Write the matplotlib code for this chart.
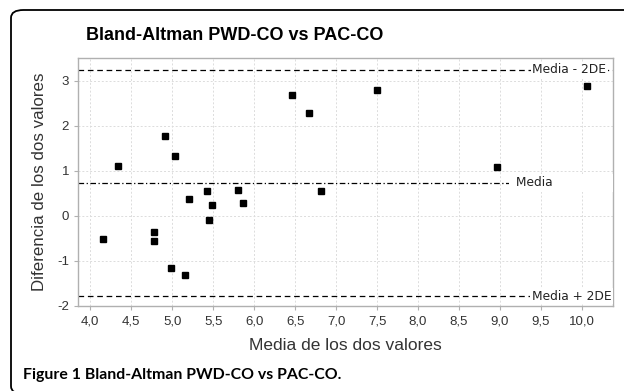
import matplotlib
matplotlib.use("Agg")
import matplotlib.pyplot as plt
from matplotlib.patches import FancyBboxPatch
from matplotlib.ticker import FixedLocator, FuncFormatter

# ---- data ----
media_vals = [4.15, 4.34, 4.78, 4.78, 4.91, 5.03, 4.98, 5.15, 5.20, 5.42,
              5.45, 5.48, 5.80, 5.86, 6.46, 6.67, 6.81, 7.50, 8.97, 10.06]
diff_vals = [-0.52, 1.10, -0.36, -0.55, 1.78, 1.32, -1.16, -1.31, 0.37, 0.56,
             -0.09, 0.25, 0.58, 0.28, 2.67, 2.27, 0.56, 2.80, 1.08, 2.87]
mean_diff = 0.73
upper_lim = 3.24
lower_lim = -1.78
x_ticks = [4.0, 4.5, 5.0, 5.5, 6.0, 6.5, 7.0, 7.5, 8.0, 8.5, 9.0, 9.5, 10.0]
y_ticks = [-2, -1, 0, 1, 2, 3]
title = "Bland-Altman PWD-CO vs PAC-CO"
xlabel = "Media de los dos valores"
ylabel = "Diferencia de los dos valores"
caption_bold = "Figure 1"
caption_text = "Bland-Altman PWD-CO vs PAC-CO."

W, H = 624, 391
fig = plt.figure(figsize=(W / 100, H / 100), dpi=100)
fig.patch.set_facecolor("white")

# rounded frame (right and bottom edges run off the picture)
frame = FancyBboxPatch((11 / W, -3 / H), 700 / W, (H - 7) / H,
                       boxstyle="round,pad=0,rounding_size=0.02",
                       transform=fig.transFigure, fill=False,
                       edgecolor="black", linewidth=1.3, zorder=0)
fig.patches.append(frame)

ax = fig.add_axes([78 / W, 1 - 306 / H, (613 - 78) / W, (306 - 58) / H])
ax.set_xlim(3.85, 10.38)
ax.set_ylim(-2, 3.5)

ax.xaxis.set_major_locator(FixedLocator(x_ticks))
ax.yaxis.set_major_locator(FixedLocator(y_ticks))
ax.xaxis.set_major_formatter(FuncFormatter(lambda v, p: f"{v:.1f}".replace(".", ",")))
ax.yaxis.set_major_formatter(FuncFormatter(lambda v, p: f"{int(v)}"))

ax.grid(True, color="#dcdcdc", linestyle=(0, (2, 2)), linewidth=0.7)
ax.set_axisbelow(True)
for s in ax.spines.values():
    s.set_color("#b0b0b0")
    s.set_linewidth(1.0)
ax.tick_params(axis="both", colors="#b0b0b0", length=3, width=0.8,
               labelcolor="#333333", labelsize=9.5)
for lab in ax.get_xticklabels() + ax.get_yticklabels():
    lab.set_family("Liberation Sans")

ax.plot(media_vals, diff_vals, linestyle="none", marker="s", markersize=3.8,
        color="black", zorder=3)

ax.axhline(upper_lim, color="black", linestyle=(0, (4.5, 3)), linewidth=0.9, zorder=2)
ax.axhline(lower_lim, color="black", linestyle=(0, (4.5, 3)), linewidth=0.9, zorder=2)
ax.axhline(mean_diff, color="black", linestyle=(0, (4.5, 2, 1, 2)), linewidth=0.9, zorder=2)

tkw = dict(family="DejaVu Sans", fontsize=8.8, color="#222222", va="center", zorder=4)
ax.text(10.30, upper_lim, "Media - 2DE", ha="right",
        bbox=dict(facecolor="white", edgecolor="none", pad=1), **tkw)
ax.text(9.15, mean_diff, " Media" + " " * 18, ha="left", clip_on=True,
        bbox=dict(facecolor="white", edgecolor="none", pad=2), **tkw)
ax.text(10.36, lower_lim, "Media + 2DE", ha="right",
        bbox=dict(facecolor="white", edgecolor="none", pad=1), **tkw)

ax.set_xlabel(xlabel, family="Liberation Sans", fontsize=12.5, color="#333333", labelpad=8)
ax.set_ylabel(ylabel, family="Liberation Sans", fontsize=12.2, color="#333333", labelpad=7)

fig.text(235 / W, 1 - 35 / H, title, family="Liberation Sans", fontweight="bold",
         fontsize=13, ha="center", va="center", color="black")

fig.text(23 / W, 1 - 375 / H, caption_bold + " " + caption_text, family="Lato",
         fontweight="bold", fontsize=11.4, ha="left", va="center", color="black")

fig.savefig("out.png", dpi=100)
